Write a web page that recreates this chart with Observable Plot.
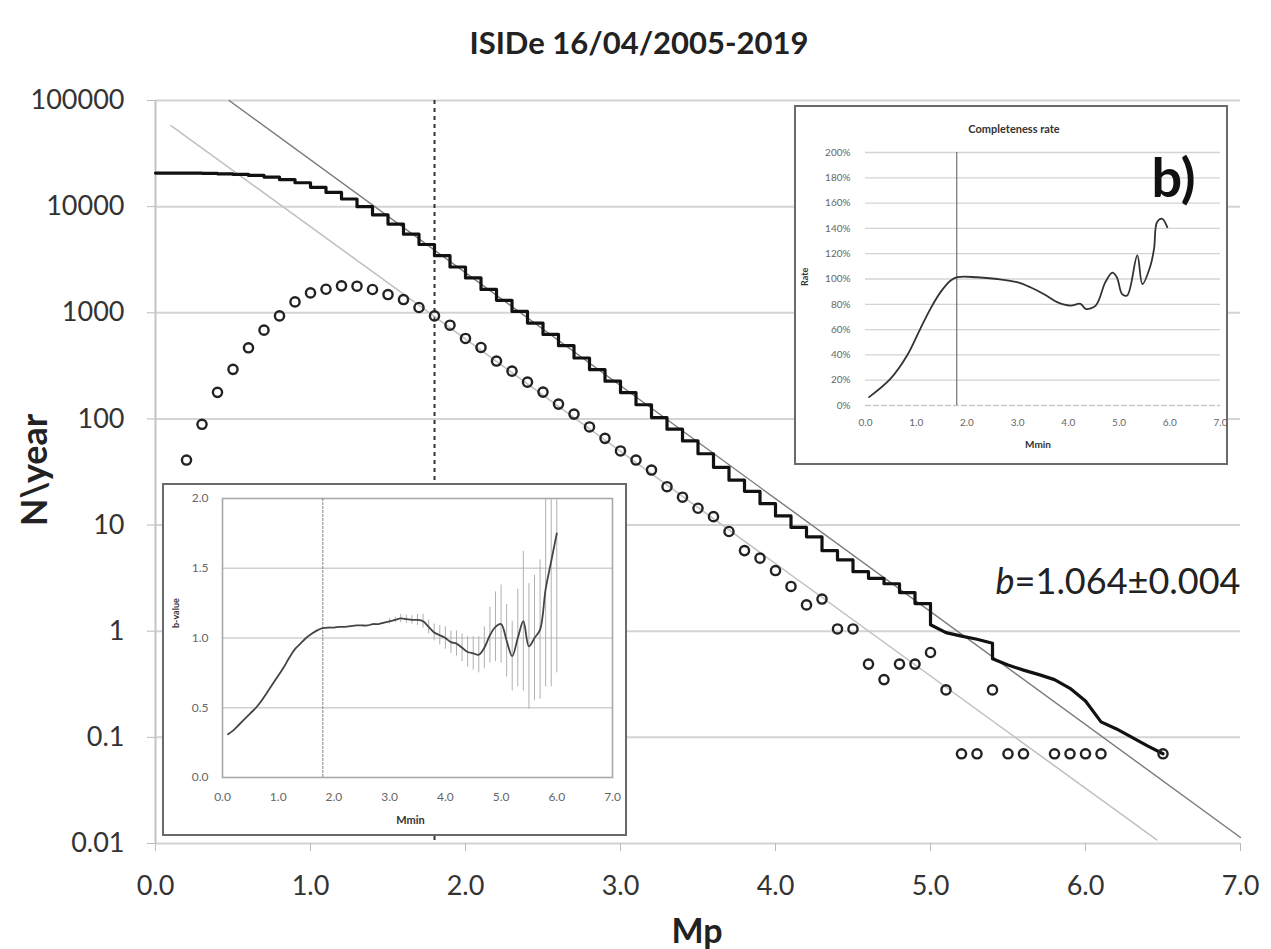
<!DOCTYPE html>
<html><head><meta charset="utf-8">
<script src="https://cdn.jsdelivr.net/npm/d3@7"></script>
<script src="https://cdn.jsdelivr.net/npm/@observablehq/plot@0.6"></script>
<style>
body{margin:0;background:#fff;}
#wrap{position:relative;width:1271px;height:949px;font-family:Lato,"Open Sans",sans-serif;color:#222;overflow:hidden;}
.abs{position:absolute;white-space:nowrap;line-height:1;}
.title{left:639px;top:42px;transform:translate(-50%,-50%);font-size:31px;font-weight:bold;}
.ylab{left:33px;top:470px;transform:translate(-50%,-50%) rotate(-90deg);font-size:36px;font-weight:bold;}
.xlab{left:697px;top:930px;transform:translate(-50%,-50%);font-size:34px;font-weight:bold;}
.blab{left:1118px;top:580px;transform:translate(-50%,-50%);font-size:36px;color:#222;}
.inset{position:absolute;box-sizing:border-box;border:2px solid #6a6a6a;background:#fff;}
.inset svg{display:block;}
</style></head><body>
<div id="wrap">
  <div id="main" class="abs" style="left:0;top:0"></div>
  <div class="abs title">ISIDe 16/04/2005-2019</div>
  <div class="abs ylab">N\year</div>
  <div class="abs xlab">Mp</div>
  <div class="abs blab"><i>b</i>=1.064±0.004</div>
  <div id="insetA" class="inset" style="left:162px;top:483px;width:465px;height:353px"></div>
  <div id="insetB" class="inset" style="left:794px;top:105px;width:434px;height:360px"></div>
</div>
<script>
// ---------- Main chart data ----------
const xTicks = [0, 1, 2, 3, 4, 5, 6, 7];
const yTicks = [0.01, 0.1, 1, 10, 100, 1000, 10000, 100000];

// non-cumulative annual rate (open circles)
const circleM = [0.2,0.3,0.4,0.5,0.6,0.7,0.8,0.9,1.0,1.1,1.2,1.3,1.4,1.5,1.6,1.7,1.8,1.9,2.0,2.1,2.2,2.3,2.4,2.5,2.6,2.7,2.8,2.9,3.0,3.1,3.2,3.3,3.4,3.5,3.6,3.7,3.8,3.9,4.0,4.1,4.2,4.3,4.4,4.5,4.6,4.7,4.8,4.9,5.0,5.1,5.2,5.3,5.4,5.5,5.6,5.8,5.9,6.0,6.1,6.5];
const circleN = [41,89,178,293,468,686,935,1267,1540,1667,1793,1781,1657,1486,1333,1122,935,764,573,471,351,282,222,179,138,111,84,65.6,49.9,41,33,23,18.3,14.4,12.0,8.7,5.75,4.88,3.73,2.64,1.77,2.01,1.05,1.05,0.49,0.35,0.49,0.49,0.63,0.28,0.07,0.07,0.28,0.07,0.07,0.07,0.07,0.07,0.07,0.07];

// cumulative annual rate (thick staircase)
const stairM = [0.0,0.1,0.2,0.3,0.4,0.5,0.6,0.7,0.8,0.9,1.0,1.1,1.2,1.3,1.4,1.5,1.6,1.7,1.8,1.9,2.0,2.1,2.2,2.3,2.4,2.5,2.6,2.7,2.8,2.9,3.0,3.1,3.2,3.3,3.4,3.5,3.6,3.7,3.8,3.9,4.0,4.1,4.2,4.3,4.4,4.5,4.6,4.7,4.8,4.9,5.0];
const stairN = [20700,20700,20700,20650,20600,20400,20100,19700,19000,18000,16800,15200,13600,11800,10000,8350,6850,5500,4400,3450,2700,2130,1660,1310,1030,800,625,490,375,292,227,177,136,103,80,62,47,35,26.5,20.8,15.9,12.2,9.5,7.75,5.74,4.69,3.64,3.15,2.8,2.31,1.82];
const tailM = [5.0,5.0,5.1,5.2,5.3,5.4,5.4,5.5,5.6,5.7,5.8,5.9,6.0,6.1,6.2,6.3,6.4,6.5];
const tailN = [1.82,1.15,0.97,0.9,0.84,0.77,0.55,0.48,0.43,0.39,0.35,0.29,0.22,0.14,0.12,0.1,0.083,0.07];

// Gutenberg-Richter fit lines (end points)
const fitUpperM = [0.475, 7.0];
const fitUpperN = [100000, 0.0114];
const fitLowerM = [0.1, 6.46];
const fitLowerN = [58000, 0.0108];

const mc = [1.8];

// ---------- Inset a (b-value) ----------
const bM = [0.1,0.2,0.3,0.4,0.5,0.6,0.7,0.8,0.9,1.0,1.1,1.2,1.3,1.4,1.5,1.6,1.7,1.8,1.9,2.0,2.1,2.2,2.3,2.4,2.5,2.6,2.7,2.8,2.9,3.0,3.1,3.2,3.3,3.4,3.5,3.6,3.7,3.8,3.9,4.0,4.1,4.2,4.3,4.4,4.5,4.6,4.7,4.8,4.9,5.0,5.1,5.2,5.3,5.4,5.5,5.6,5.7,5.8,5.9,6.0];
const bVal = [0.31,0.34,0.38,0.42,0.46,0.50,0.55,0.61,0.67,0.73,0.79,0.86,0.92,0.96,1.00,1.03,1.055,1.07,1.075,1.075,1.08,1.08,1.085,1.09,1.09,1.09,1.10,1.10,1.11,1.12,1.13,1.14,1.135,1.13,1.13,1.12,1.08,1.04,1.02,1.00,0.97,0.96,0.93,0.90,0.89,0.88,0.93,1.02,1.08,1.10,0.98,0.87,1.00,1.12,0.94,1.00,1.06,1.35,1.55,1.75];
const errM = [3.0,3.1,3.2,3.3,3.4,3.5,3.6,3.7,3.8,3.9,4.0,4.1,4.2,4.3,4.4,4.5,4.6,4.7,4.8,4.9,5.0,5.1,5.2,5.3,5.4,5.5,5.6,5.7,5.8,5.9,6.0];
const errHalf = [0.02,0.02,0.03,0.03,0.03,0.04,0.05,0.05,0.06,0.07,0.08,0.08,0.09,0.10,0.11,0.12,0.13,0.15,0.2,0.25,0.28,0.26,0.25,0.35,0.5,0.45,0.45,0.5,0.7,0.9,1.0];
const bTicks = [0, 0.5, 1.0, 1.5, 2.0];

// ---------- Inset b (completeness rate) ----------
const compM = [0.07,0.49,0.82,1.08,1.28,1.48,1.68,1.81,2.2,2.6,2.99,3.25,3.52,3.78,4.04,4.24,4.34,4.54,4.73,4.87,4.96,5.06,5.16,5.36,5.46,5.62,5.69,5.75,5.85,5.95];
const compR = [0.066,0.21,0.395,0.606,0.764,0.896,0.988,1.014,1.014,1.00,0.975,0.935,0.88,0.817,0.79,0.804,0.764,0.79,0.975,1.05,1.01,0.88,0.87,1.186,0.96,1.107,1.24,1.45,1.476,1.41];
const rateTicks = [0,0.2,0.4,0.6,0.8,1.0,1.2,1.4,1.6,1.8,2.0];

// ---------- build tables ----------
const circles = circleM.map((m, i) => ({M: m, N: circleN[i]}));
const stairs = stairM.map((m, i) => ({M: m, N: stairN[i]}));
const tail = tailM.map((m, i) => ({M: m, N: tailN[i]}));
const fitUpper = fitUpperM.map((m, i) => ({M: m, N: fitUpperN[i]}));
const fitLower = fitLowerM.map((m, i) => ({M: m, N: fitLowerN[i]}));
const bData = bM.map((m, i) => ({M: m, b: bVal[i]}));
const bLookup = new Map(bM.map((m, i) => [m, bVal[i]]));
const errData = errM.map((m, i) => ({M: m, lo: bLookup.get(m) - errHalf[i], hi: bLookup.get(m) + errHalf[i]}));
const compData = compM.map((m, i) => ({M: m, r: compR[i]}));

const f1 = d3.format(".1f");
const FONT = "Lato, 'Open Sans', sans-serif";

// ---------- main plot ----------
const main = Plot.plot({
  width: 1271, height: 949,
  marginLeft: 155, marginRight: 31, marginTop: 100, marginBottom: 106,
  style: {fontFamily: FONT, background: "transparent", color: "#333"},
  x: {domain: [0, 7], label: null},
  y: {type: "log", domain: [0.01, 100000], label: null},
  marks: [
    Plot.ruleY(yTicks, {stroke: "#d4d4d4", strokeWidth: 2}),
    Plot.ruleX([0], {stroke: "#c4c4c4", strokeWidth: 2}),
    Plot.axisY({ticks: yTicks, tickFormat: d => String(d), tickSize: 8, tickPadding: 23, stroke: "#bbb", fill: "#333", fontSize: 27, label: null}),
    Plot.axisX({ticks: xTicks, tickFormat: f1, tickSize: 8, tickPadding: 24, stroke: "#bbb", fill: "#333", fontSize: 27, label: null}),
    Plot.ruleX(mc, {stroke: "#333", strokeWidth: 2, strokeDasharray: "4,4"}),
    Plot.line(fitLower, {x: "M", y: "N", stroke: "#c2c2c2", strokeWidth: 1.6}),
    Plot.line(fitUpper, {x: "M", y: "N", stroke: "#7a7a7a", strokeWidth: 1.4}),
    Plot.line(stairs, {x: "M", y: "N", curve: "step-before", stroke: "#111", strokeWidth: 3.2}),
    Plot.line(tail, {x: "M", y: "N", stroke: "#111", strokeWidth: 3.2}),
    Plot.dot(circles, {x: "M", y: "N", r: 4.6, stroke: "#222", strokeWidth: 2.4, fill: "none"})
  ]
});
document.getElementById("main").appendChild(main);

// ---------- inset a ----------
const insetA = Plot.plot({
  width: 461, height: 349,
  marginLeft: 58, marginRight: 13, marginTop: 13, marginBottom: 57,
  style: {fontFamily: FONT, background: "#fff", color: "#555"},
  x: {domain: [0, 7], label: null},
  y: {domain: [0, 2], label: null},
  marks: [
    Plot.ruleY([0.5, 1.0, 1.5], {stroke: "#d0d0d0", strokeWidth: 1.5}),
    Plot.frame({stroke: "#a8a8a8", strokeWidth: 1.6}),
    Plot.axisY({ticks: bTicks, tickFormat: f1, tickSize: 0, tickPadding: 14, fill: "#666", fontSize: 12, label: null}),
    Plot.axisX({ticks: xTicks, tickFormat: f1, tickSize: 0, tickPadding: 15, fill: "#666", fontSize: 12, label: null}),
    Plot.ruleX(mc, {stroke: "#888", strokeWidth: 1, strokeDasharray: "3,1"}),
    Plot.ruleX(errData, {x: "M", y1: "lo", y2: "hi", stroke: "#b0b0b0", strokeWidth: 1, clip: true}),
    Plot.line(bData, {x: "M", y: "b", curve: "catmull-rom", stroke: "#444", strokeWidth: 1.8, clip: true}),
    Plot.text(["Mmin"], {frameAnchor: "bottom", dy: 46, dx: -7, fontWeight: "bold", fontSize: 11, fill: "#333"}),
    Plot.text(["b-value"], {frameAnchor: "left", dx: -46, dy: -10, rotate: -90, fontWeight: "bold", fontSize: 9, fill: "#333"})
  ]
});
document.getElementById("insetA").appendChild(insetA);

// ---------- inset b ----------
const insetB = Plot.plot({
  width: 430, height: 356,
  marginLeft: 69, marginRight: 6, marginTop: 45, marginBottom: 58,
  style: {fontFamily: FONT, background: "#fff", color: "#555"},
  x: {domain: [0, 7], label: null},
  y: {domain: [0, 2], label: null},
  marks: [
    Plot.ruleY(rateTicks.filter(d => d > 0), {stroke: "#d4d4d4", strokeWidth: 1.3}),
    Plot.ruleY([0], {stroke: "#c8c8c8", strokeWidth: 1.3, strokeDasharray: "6,2"}),
    Plot.axisY({ticks: rateTicks, tickFormat: d3.format(".0%"), tickSize: 0, tickPadding: 15, fill: "#666", fontSize: 10, label: null}),
    Plot.axisX({ticks: xTicks, tickFormat: f1, tickSize: 0, tickPadding: 13, fill: "#666", fontSize: 10, label: null}),
    Plot.ruleX(mc, {stroke: "#555", strokeWidth: 1}),
    Plot.line(compData, {x: "M", y: "r", curve: "catmull-rom", stroke: "#333", strokeWidth: 1.8}),
    Plot.text(["Completeness rate"], {frameAnchor: "top", dy: -27, dx: -29, fontWeight: "bold", fontSize: 11, fill: "#333"}),
    Plot.text(["b)"], {frameAnchor: "top-right", textAnchor: "middle", dx: -47, dy: 6, fontWeight: "bold", fontSize: 54, fill: "#111"}),
    Plot.text(["Mmin"], {frameAnchor: "bottom", dy: 42, dx: -5, fontWeight: "bold", fontSize: 10, fill: "#333"}),
    Plot.text(["Rate"], {frameAnchor: "left", dx: -60, dy: 7, rotate: -90, fontWeight: "bold", fontSize: 9, fill: "#333"})
  ]
});
document.getElementById("insetB").appendChild(insetB);
</script>
</body></html>
